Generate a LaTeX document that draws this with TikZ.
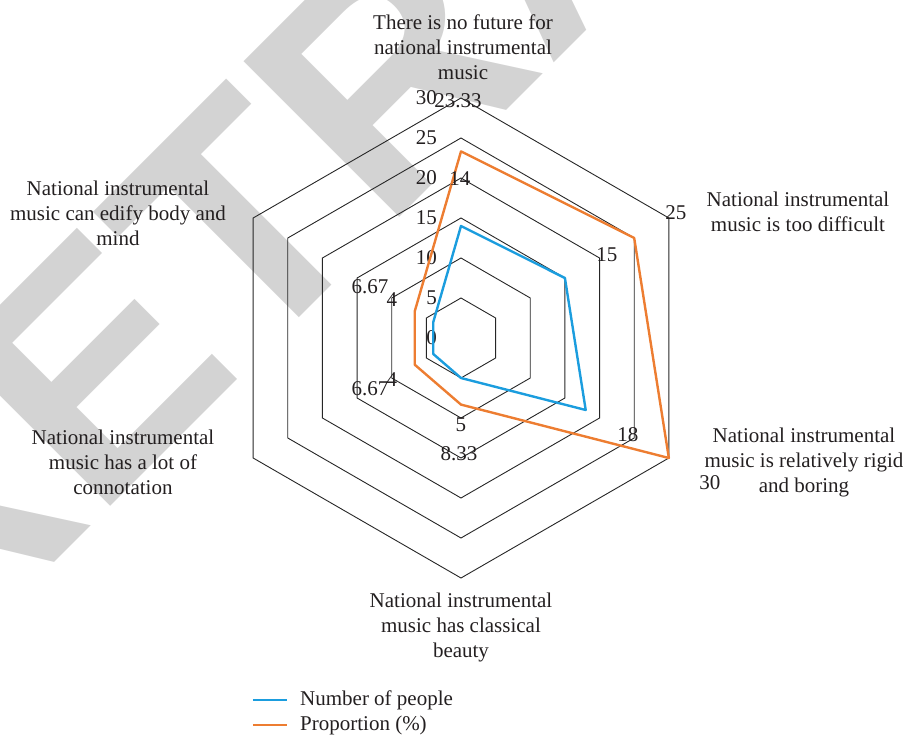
\documentclass[tikz,border=0pt]{standalone}
\usepackage{fontspec}
\setmainfont{Liberation Serif}
\newfontfamily\stampfont{Liberation Sans}
\usetikzlibrary{positioning}
\definecolor{peopleblue}{RGB}{27,157,222}
\definecolor{shareorange}{RGB}{237,125,49}
\definecolor{inkgray}{RGB}{35,31,32}
\definecolor{stampgray}{RGB}{211,211,211}

\begin{document}
\begin{tikzpicture}[x=1pt, y=1pt, font=\fontsize{21}{25}\selectfont, text=inkgray,
    catlabel/.style={align=center, inner sep=0pt},
    ticklabel/.style={anchor=east, inner sep=0pt},
    datalabel/.style={inner sep=0pt},
    ring/.style={draw=black!85, line width=0.9pt},
    peopleline/.style={draw=peopleblue, line width=2.4pt, line join=round},
    shareline/.style={draw=shareorange, line width=2.4pt, line join=round}]
    \useasboundingbox (-461,-399) rectangle (445,338);

    % watermark
    \node [rotate=45, anchor=base west, inner sep=0pt, text=stampgray,
        font=\stampfont\bfseries\fontsize{320}{320}\selectfont] (stamp) at (-529,-347) {RETRACTED};

    % rings, every 5 units
    \foreach \r in {40,80,...,240}
        \draw [ring] (90:\r) -- (30:\r) -- (-30:\r) -- (-90:\r) -- (-150:\r) -- (150:\r) -- cycle;
    \foreach \v in {0,5,...,30}
        \node [ticklabel] (tick\v) at (-24, \v*8) {\v};

    % categories
    \node [catlabel] (future) at (2, 291) {There is no future for\\national instrumental\\music};
    \node [catlabel] (difficult) at (337, 126) {National instrumental\\music is too difficult};
    \node [catlabel] (boring) at (343, -124) {National instrumental\\music is relatively rigid\\and boring};
    \node [catlabel] (beauty) at (0, -289) {National instrumental\\music has classical\\beauty};
    \node [catlabel] (connotation) at (-338, -124) {National instrumental\\music has a lot of\\connotation};
    \node [catlabel] (edify) at (-343, 125) {National instrumental\\music can edify body and\\mind};

    % number of people
    \coordinate (pa) at (90:112);
    \coordinate (pb) at (30:120);
    \coordinate (pc) at (-30:144);
    \coordinate (pd) at (-90:40);
    \coordinate (pe) at (-150:32);
    \coordinate (pf) at (150:32);
    \draw [peopleline] (pa) -- (pb) -- (pc) -- (pd) -- (pe) -- (pf) -- cycle;

    % proportion
    \coordinate (qa) at (90:186.6);
    \coordinate (qb) at (30:200);
    \coordinate (qc) at (-30:240);
    \coordinate (qd) at (-90:66.6);
    \coordinate (qe) at (-150:53.4);
    \coordinate (qf) at (150:53.4);
    \draw [shareline] (qa) -- (qb) -- (qc) -- (qd) -- (qe) -- (qf) -- cycle;

    % value labels
    \node [datalabel] (va) at (-1, 159) {14};
    \node [datalabel] (vb) at (146, 83) {15};
    \node [datalabel] (vc) at (167, -97) {18};
    \node [datalabel] (vd) at (0, -87) {5};
    \node [datalabel] (ve) at (-69, -42) {4};
    \node [datalabel] (vf) at (-69, 38) {4};
    \node [datalabel] (wa) at (-3, 237) {23.33};
    \node [datalabel] (wb) at (215, 125) {25};
    \node [datalabel] (wc) at (249, -145) {30};
    \node [datalabel] (wd) at (-2, -116) {8.33};
    \node [datalabel] (we) at (-91, -51) {6.67};
    \node [datalabel] (wf) at (-91, 51) {6.67};

    % legend
    \node [anchor=west, inner sep=0pt] (peoplekey) at (-161, -362) {Number of people};
    \node [anchor=west, inner sep=0pt] (sharekey) at (-161, -387) {Proportion (\%)};
    \coordinate (peoplefrom) at (-208, -362);
    \coordinate (peopleto) at (-174, -362);
    \coordinate (sharefrom) at (-208, -387);
    \coordinate (shareto) at (-174, -387);
    \draw [peopleline, line width=1.2pt] (peoplefrom) -- (peopleto);
    \draw [shareline, line width=1.2pt] (sharefrom) -- (shareto);
\end{tikzpicture}
\end{document}
